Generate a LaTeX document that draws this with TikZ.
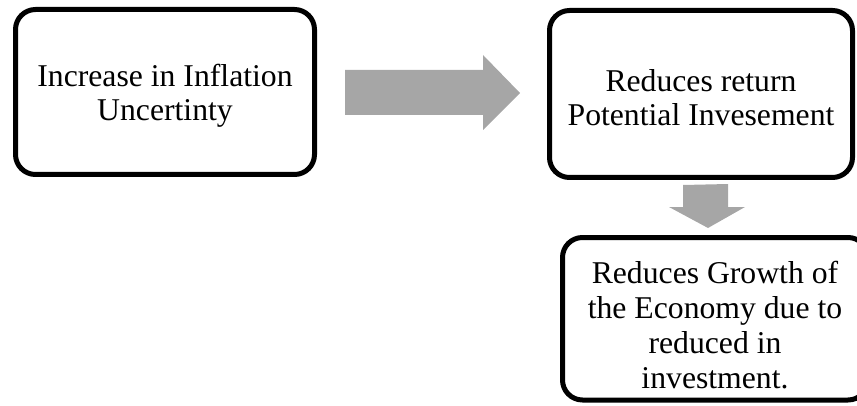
\documentclass[tikz,border=0pt]{standalone}
\usepackage{fontspec}
\setmainfont{Liberation Serif}
\definecolor{arrowgray}{HTML}{A6A6A6}
\begin{document}
\begin{tikzpicture}[x=1pt,y=1pt,
  box/.style={draw=black,line width=5pt,rounded corners=20pt,fill=white,
    align=center,inner sep=0pt,font=\fontsize{31.7}{34}\selectfont},
  blockarrow/.style={fill=arrowgray,draw=none}]
\useasboundingbox (0,0) rectangle (857,405);
% boxes (y measured from bottom)
\draw[box] (15.5,230.5) rectangle (314.5,395.5);
\node[align=center,font=\fontsize{31.7}{34}\selectfont] (a) at (165,309) {Increase in Inflation\\Uncertinty};
\draw[box] (549.5,227.5) rectangle (852.5,394.5);
\node[align=center,font=\fontsize{31.7}{34}\selectfont] (b) at (701,307) {Reduces return\\Potential Invesement};
\draw[box] (562.5,5) rectangle (868,167.5);
\node[align=center,font=\fontsize{31.7}{35}\selectfont] (c) at (715,80) {Reduces Growth of\\the Economy due to\\reduced in\\investment.};
% right block arrow
\fill[blockarrow] (345,335) -- (483,335) -- (483,350) -- (520,312) -- (483,275) -- (483,290) -- (345,290) -- cycle;
% down block arrow
\fill[blockarrow] (683,220) -- (728,221) -- (728,198) -- (745,198) -- (708,177) -- (669,198) -- (683,198) -- cycle;
\end{tikzpicture}
\end{document}
